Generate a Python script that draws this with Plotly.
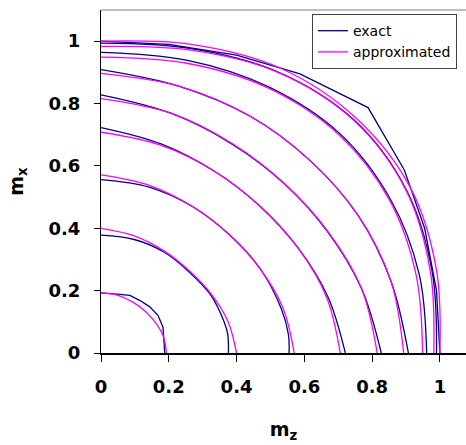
import plotly.graph_objects as go

# ---- data (m_z, m_x) ----
# approximated (magenta) curves
m1_x = [0.193, 0.185, 0.163, 0.132, 0.094, 0.050, 0.0]
m1_y = [0.0, 0.050, 0.094, 0.132, 0.163, 0.185, 0.193]
m2_x = [0.400, 0.375, 0.326, 0.262, 0.188, 0.100, 0.0]
m2_y = [0.0, 0.100, 0.188, 0.262, 0.326, 0.375, 0.400]
m3_x = [0.570, 0.537, 0.469, 0.379, 0.271, 0.144, 0.0]
m3_y = [0.0, 0.144, 0.271, 0.379, 0.469, 0.537, 0.571]
m4_x = [0.706, 0.666, 0.582, 0.470, 0.336, 0.178, 0.0]
m4_y = [0.0, 0.178, 0.336, 0.470, 0.582, 0.666, 0.708]
m5_x = [0.815, 0.769, 0.671, 0.542, 0.388, 0.206, 0.0]
m5_y = [0.0, 0.206, 0.388, 0.542, 0.671, 0.769, 0.816]
m6_x = [0.893, 0.856, 0.760, 0.617, 0.439, 0.229, 0.0]
m6_y = [0.0, 0.229, 0.439, 0.617, 0.760, 0.856, 0.897]
m7_x = [0.949, 0.930, 0.851, 0.701, 0.491, 0.249, 0.0]
m7_y = [0.0, 0.249, 0.491, 0.701, 0.851, 0.930, 0.949]
m8_x = [0.982, 0.972, 0.901, 0.746, 0.520, 0.260, 0.0]
m8_y = [0.0, 0.260, 0.520, 0.746, 0.901, 0.972, 0.983]
m9_x = [1.000, 0.990, 0.914, 0.753, 0.528, 0.265, 0.0]
m9_y = [0.0, 0.265, 0.528, 0.753, 0.914, 0.990, 1.000]

# exact (navy) curves
n1_x = [0.188, 0.186, 0.183, 0.168, 0.144, 0.114, 0.085, 0.055, 0.0]
n1_y = [0.0, 0.030, 0.083, 0.121, 0.148, 0.169, 0.185, 0.188, 0.193]
n2_x = [0.376, 0.374, 0.364, 0.323, 0.260, 0.187, 0.098, 0.0]
n2_y = [0.0, 0.060, 0.098, 0.187, 0.260, 0.323, 0.364, 0.378]
n3_x = [0.555, 0.553, 0.532, 0.469, 0.379, 0.271, 0.142, 0.0]
n3_y = [0.0, 0.060, 0.142, 0.271, 0.379, 0.469, 0.532, 0.556]
n4_x = [0.721, 0.670, 0.582, 0.470, 0.336, 0.179, 0.0]
n4_y = [0.0, 0.179, 0.336, 0.470, 0.582, 0.670, 0.723]
n5_x = [0.827, 0.769, 0.670, 0.542, 0.387, 0.206, 0.0]
n5_y = [0.0, 0.206, 0.387, 0.542, 0.670, 0.769, 0.828]
n6_x = [0.907, 0.856, 0.760, 0.617, 0.439, 0.229, 0.0]
n6_y = [0.0, 0.229, 0.439, 0.617, 0.760, 0.856, 0.909]
n7_x = [0.961, 0.939, 0.854, 0.704, 0.493, 0.252, 0.0]
n7_y = [0.0, 0.252, 0.493, 0.704, 0.854, 0.939, 0.964]
n8_x = [0.990, 0.977, 0.902, 0.747, 0.521, 0.262, 0.0]
n8_y = [0.0, 0.262, 0.521, 0.747, 0.902, 0.977, 0.994]
n9_x = [1.000, 0.990, 0.955, 0.895, 0.788, 0.587, 0.400, 0.200, 0.0]
n9_y = [0.0, 0.200, 0.400, 0.587, 0.787, 0.895, 0.955, 0.990, 1.000]

approx_curves = [(m1_x, m1_y), (m2_x, m2_y), (m3_x, m3_y), (m4_x, m4_y), (m5_x, m5_y),
                 (m6_x, m6_y), (m7_x, m7_y), (m8_x, m8_y), (m9_x, m9_y)]
exact_curves = [(n1_x, n1_y), (n2_x, n2_y), (n3_x, n3_y), (n4_x, n4_y), (n5_x, n5_y),
                (n6_x, n6_y), (n7_x, n7_y), (n8_x, n8_y), (n9_x, n9_y)]

tick_vals = [0, 0.2, 0.4, 0.6, 0.8, 1.0]
tick_text = ["0", "0.2", "0.4", "0.6", "0.8", "1"]

NAVY = "#000080"
MAGENTA = "#FF00FF"

fig = go.Figure()
for i, (xs, ys) in enumerate(exact_curves):
    shape = "linear" if i in (0, 8) else "spline"
    fig.add_trace(go.Scatter(x=xs, y=ys, mode="lines", name="exact",
                             legendgroup="exact", showlegend=(i == 0),
                             line=dict(color=NAVY, width=1.3, shape=shape)))
for i, (xs, ys) in enumerate(approx_curves):
    fig.add_trace(go.Scatter(x=xs, y=ys, mode="lines", name="approximated",
                             legendgroup="approx", showlegend=(i == 0),
                             line=dict(color=MAGENTA, width=1.3, shape="spline")))

tickfont = dict(family="DejaVu Sans", size=18, color="black", weight="bold")
titlefont = dict(family="DejaVu Sans", size=19, color="black", weight="bold")

fig.update_layout(
    width=466, height=445,
    margin=dict(l=101, r=0, t=10, b=92),
    paper_bgcolor="white", plot_bgcolor="white",
    showlegend=True,
    legend=dict(x=0.578, y=0.988, xanchor="left", yanchor="top",
                bgcolor="white", bordercolor="#404040", borderwidth=1,
                font=dict(family="DejaVu Sans", size=14, color="black"),
                tracegroupgap=0),
    xaxis=dict(range=[0, 1.077], tickvals=tick_vals, ticktext=tick_text,
               ticks="outside", ticklen=7, tickcolor="black", tickwidth=1,
               showline=True, linecolor="black", linewidth=1.5,
               showgrid=False, zeroline=False, tickfont=tickfont,
               ticklabelstandoff=10,
               title=dict(text="m<sub>z</sub>", font=titlefont, standoff=26)),
    yaxis=dict(range=[0, 1.10], tickvals=tick_vals, ticktext=tick_text,
               ticks="outside", ticklen=6, tickcolor="black", tickwidth=1,
               showline=True, linecolor="black", linewidth=1,
               showgrid=False, zeroline=False, tickfont=tickfont,
               ticklabelstandoff=10,
               title=dict(text="m<sub>x</sub>", font=titlefont, standoff=19)),
    shapes=[dict(type="line", xref="paper", yref="paper", x0=0, x1=1, y0=1, y1=1,
                 line=dict(color="#808080", width=1))],
)

fig.write_html("out.html")
